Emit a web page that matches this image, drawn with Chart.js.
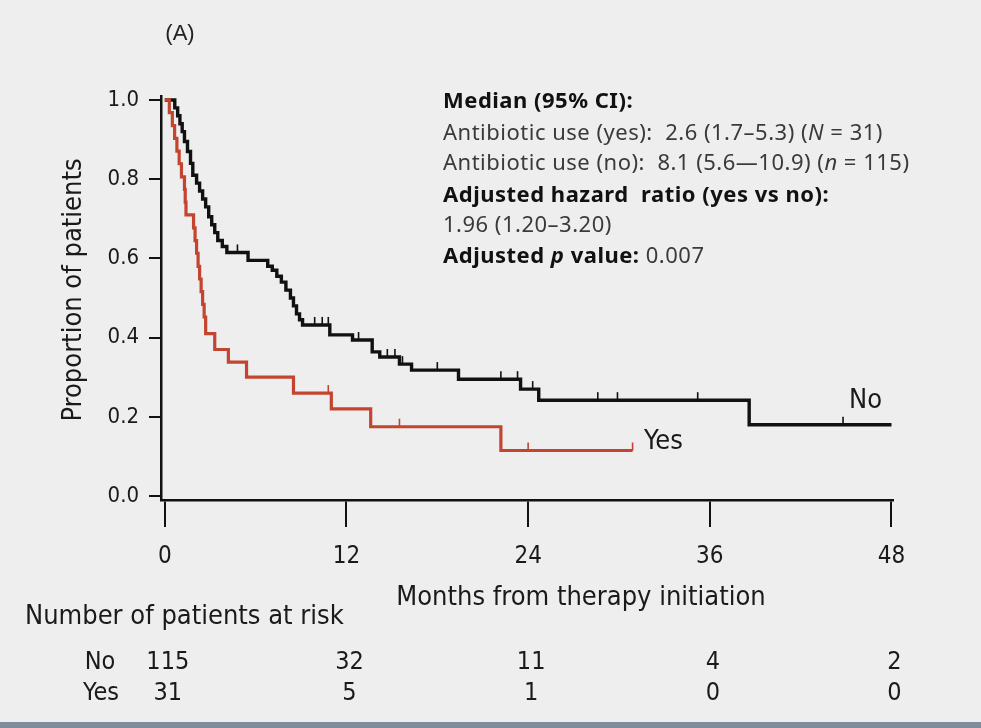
<!DOCTYPE html>
<html>
<head>
<meta charset="utf-8">
<script src="https://cdn.jsdelivr.net/npm/chart.js@4"></script>
<style>
  html, body { margin: 0; padding: 0; background: #eeeeee; }
  #wrap { width: 981px; height: 722px; position: relative; background: #eeeeee; }
  #strip { width: 981px; height: 6px; background: #7f8d9b; }
</style>
</head>
<body>
<div id="wrap"><canvas id="km" width="981" height="722"></canvas></div>
<div id="strip"></div>
<script>
// Kaplan-Meier steps (months, proportion after the drop)
const noTimes = [0, 0.66, 0.85, 1.0, 1.15, 1.3, 1.5, 1.7, 1.85, 2.1, 2.3, 2.5, 2.7, 2.9, 3.1, 3.3, 3.5, 3.8, 4.1,
  5.5, 6.8, 7.1, 7.4, 7.7, 8.0, 8.3, 8.5, 8.7, 8.9, 9.1, 10.9, 12.4, 13.7, 14.2, 15.5, 16.3, 19.4, 23.5, 24.7, 38.6, 48];
const noSurv = [1.0, 0.98, 0.96, 0.94, 0.92, 0.895, 0.87, 0.84, 0.81, 0.79, 0.77, 0.75, 0.73, 0.705, 0.685, 0.665, 0.645, 0.63, 0.615,
  0.595, 0.58, 0.57, 0.555, 0.54, 0.52, 0.50, 0.48, 0.46, 0.445, 0.432, 0.407, 0.394, 0.364, 0.351, 0.333, 0.318, 0.295, 0.27, 0.242, 0.18, 0.18];
const noCensor = [4.8, 9.9, 10.4, 10.8, 12.8, 14.7, 15.2, 15.7, 18.0, 22.2, 23.3, 24.3, 28.6, 29.9, 35.2, 44.8];

const yesTimes = [0, 0.3, 0.5, 0.65, 0.8, 0.95, 1.1, 1.3, 1.35, 1.4, 1.9, 2.0, 2.1, 2.2, 2.3, 2.4, 2.5, 2.6, 2.7,
  3.3, 4.2, 5.4, 8.5, 11.0, 13.6, 22.2, 30.9];
const yesSurv = [1.0, 0.968, 0.935, 0.903, 0.871, 0.839, 0.806, 0.774, 0.742, 0.71, 0.677, 0.645, 0.613, 0.58, 0.548, 0.516, 0.484, 0.452, 0.41,
  0.37, 0.338, 0.30, 0.26, 0.22, 0.175, 0.115, 0.115];
const yesCensor = [10.8, 15.5, 24.0, 30.9];

const xTicks = [0, 12, 24, 36, 48];
const yTicks = [0, 0.2, 0.4, 0.6, 0.8, 1.0];

const riskTimes = [0, 12, 24, 36, 48];
const riskNo = [115, 32, 11, 4, 2];
const riskYes = [31, 5, 1, 0, 0];

const BLACK = '#111111';
const RED = '#c4452f';
const NARROW = "'DejaVu Sans Condensed', 'Liberation Sans Narrow', sans-serif";
const NOTE = "'Noto Sans', Lato, sans-serif";

function survAt(times, surv, t) {
  let v = surv[0];
  for (let i = 0; i < times.length; i++) {
    if (times[i] <= t) v = surv[i];
  }
  return v;
}

function drawRuns(ctx, x, y, runs) {
  let cx = x;
  runs.forEach(([text, font, color]) => {
    ctx.font = font;
    ctx.fillStyle = color;
    ctx.fillText(text, cx, y);
    cx += ctx.measureText(text).width;
  });
}

const censorPlugin = {
  id: 'censor',
  afterDatasetsDraw(chart) {
    const { ctx, scales: { x, y } } = chart;
    const sets = [
      { times: noTimes, surv: noSurv, marks: noCensor, color: BLACK },
      { times: yesTimes, surv: yesSurv, marks: yesCensor, color: RED }
    ];
    ctx.save();
    ctx.lineWidth = 1.6;
    sets.forEach(s => {
      ctx.strokeStyle = s.color;
      s.marks.forEach(t => {
        const px = x.getPixelForValue(t);
        const py = y.getPixelForValue(survAt(s.times, s.surv, t));
        ctx.beginPath();
        ctx.moveTo(px, py);
        ctx.lineTo(px, py - 8);
        ctx.stroke();
      });
    });
    ctx.restore();
  }
};

const textPlugin = {
  id: 'texts',
  afterDraw(chart) {
    const { ctx, scales: { x } } = chart;
    ctx.save();
    ctx.textBaseline = 'middle';

    ctx.fillStyle = '#222';
    ctx.font = "22px 'Liberation Sans', Arial, sans-serif";
    ctx.textAlign = 'center';
    ctx.fillText('(A)', 180, 34);

    // axis titles
    ctx.font = '27px ' + NARROW;
    ctx.fillStyle = '#1a1a1a';
    ctx.save();
    ctx.translate(74, 290);
    ctx.rotate(-Math.PI / 2);
    ctx.fillText('Proportion of patients', 0, 0);
    ctx.restore();
    ctx.fillText('Months from therapy initiation', 581, 598);

    // curve labels
    ctx.textAlign = 'left';
    ctx.fillText('No', 849, 401);
    ctx.fillText('Yes', 644, 442);

    // risk table
    ctx.fillText('Number of patients at risk', 25, 617);
    ctx.font = '25px ' + NARROW;
    ctx.textAlign = 'center';
    ctx.fillText('No', 100, 662);
    ctx.fillText('Yes', 101, 693);
    riskTimes.forEach((t, i) => {
      const px = x.getPixelForValue(t) + 3;
      ctx.fillText(String(riskNo[i]), px, 662);
      ctx.fillText(String(riskYes[i]), px, 693);
    });

    // annotation block
    ctx.textAlign = 'left';
    ctx.letterSpacing = '0.5px';
    const n = '22px ' + NOTE, b = 'bold 22px ' + NOTE, it = 'italic 22px ' + NOTE, bi = 'italic bold 22px ' + NOTE;
    const g = '#3a3a3a', k = '#111';
    drawRuns(ctx, 443, 102, [['Median (95% CI):', b, k]]);
    drawRuns(ctx, 443, 134, [['Antibiotic use (yes):  2.6 (1.7\u20135.3) (', n, g], ['N', it, g], [' = 31)', n, g]]);
    drawRuns(ctx, 443, 164, [['Antibiotic use (no):  8.1 (5.6\u201410.9) (', n, g], ['n', it, g], [' = 115)', n, g]]);
    drawRuns(ctx, 443, 196, [['Adjusted hazard  ratio (yes vs no):', b, k]]);
    drawRuns(ctx, 443, 226, [['1.96 (1.20\u20133.20)', n, g]]);
    drawRuns(ctx, 443, 257, [['Adjusted ', b, k], ['p', bi, k], [' value: ', b, k], ['0.007', n, g]]);
    ctx.restore();
  }
};

new Chart(document.getElementById('km'), {
  type: 'line',
  data: {
    datasets: [
      {
        label: 'Yes',
        data: yesTimes.map((t, i) => ({ x: t, y: yesSurv[i] })),
        stepped: true,
        borderColor: RED,
        borderWidth: 3.2,
        pointRadius: 0,
        fill: false
      },
      {
        label: 'No',
        data: noTimes.map((t, i) => ({ x: t, y: noSurv[i] })),
        stepped: true,
        borderColor: BLACK,
        borderWidth: 3.4,
        pointRadius: 0,
        fill: false
      }
    ]
  },
  options: {
    responsive: false,
    animation: false,
    layout: { padding: { left: 0, right: 88, top: 96, bottom: 0 } },
    plugins: { legend: { display: false }, tooltip: { enabled: false } },
    scales: {
      x: {
        type: 'linear',
        min: -0.25,
        max: 48.1,
        afterFit: s => { s.height = 222; },
        afterBuildTicks: s => { s.ticks = xTicks.map(v => ({ value: v })); },
        grid: { drawOnChartArea: false, tickLength: 27, color: BLACK, lineWidth: 2 },
        border: { color: BLACK, width: 2.5 },
        ticks: { color: '#1a1a1a', padding: 15, font: { size: 24, family: NARROW }, maxRotation: 0 }
      },
      y: {
        min: -0.01,
        max: 1.01,
        afterFit: s => { s.width = 161; },
        afterBuildTicks: s => { s.ticks = yTicks.map(v => ({ value: v })); },
        grid: { drawOnChartArea: false, tickLength: 12, color: BLACK, lineWidth: 2 },
        border: { color: BLACK, width: 2.5 },
        ticks: { color: '#1a1a1a', padding: 10, font: { size: 22, family: NARROW }, callback: v => v.toFixed(1) }
      }
    }
  },
  plugins: [censorPlugin, textPlugin]
});
</script>
</body>
</html>
